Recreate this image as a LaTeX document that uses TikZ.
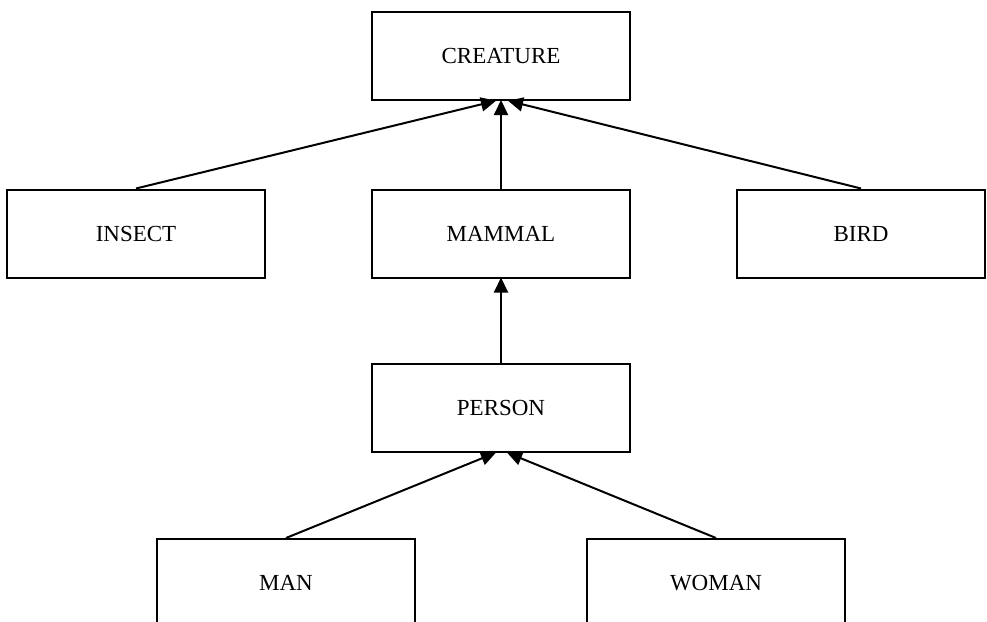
\documentclass[tikz,border=0pt]{standalone}
\usepackage{fontspec}
\setmainfont{Liberation Serif}
\usetikzlibrary{arrows.meta}
\begin{document}
\begin{tikzpicture}[x=1pt,y=1pt,
  cls/.style={draw, line width=2pt, minimum width=258pt, minimum height=88pt,
    inner sep=0pt, font=\fontsize{23}{25}\selectfont},
  isa/.style={line width=2pt, -{Triangle[length=15pt,width=14pt]}, shorten >=-1pt}]
  \useasboundingbox (0,0) rectangle (987,-621);
  \fill[white] (0,0) rectangle (987,-621);
  \begin{scope}
    \clip (0,0) rectangle (987,-621);
    % class hierarchy boxes
    \node[cls] (creature) at (501,-56) {CREATURE};
    \node[cls] (insect) at (136,-233.5) {INSECT};
    \node[cls] (mammal) at (501,-233.5) {MAMMAL};
    \node[cls, minimum width=248pt] (bird) at (861,-233.5) {BIRD};
    \node[cls] (person) at (501,-408) {PERSON};
    \node[cls] (man) at (286,-583) {MAN};
    \node[cls] (woman) at (716,-583) {WOMAN};
    % generalisation arrows
    \draw[isa] (insect.north) -- ([xshift=-6pt]creature.south);
    \draw[isa] (mammal.north) -- (creature.south);
    \draw[isa] (bird.north) -- ([xshift=8pt]creature.south);
    \draw[isa] (person.north) -- (mammal.south);
    \draw[isa] (man.north) -- ([xshift=-6pt]person.south);
    \draw[isa] (woman.north) -- ([xshift=7pt]person.south);
  \end{scope}
\end{tikzpicture}
\end{document}
